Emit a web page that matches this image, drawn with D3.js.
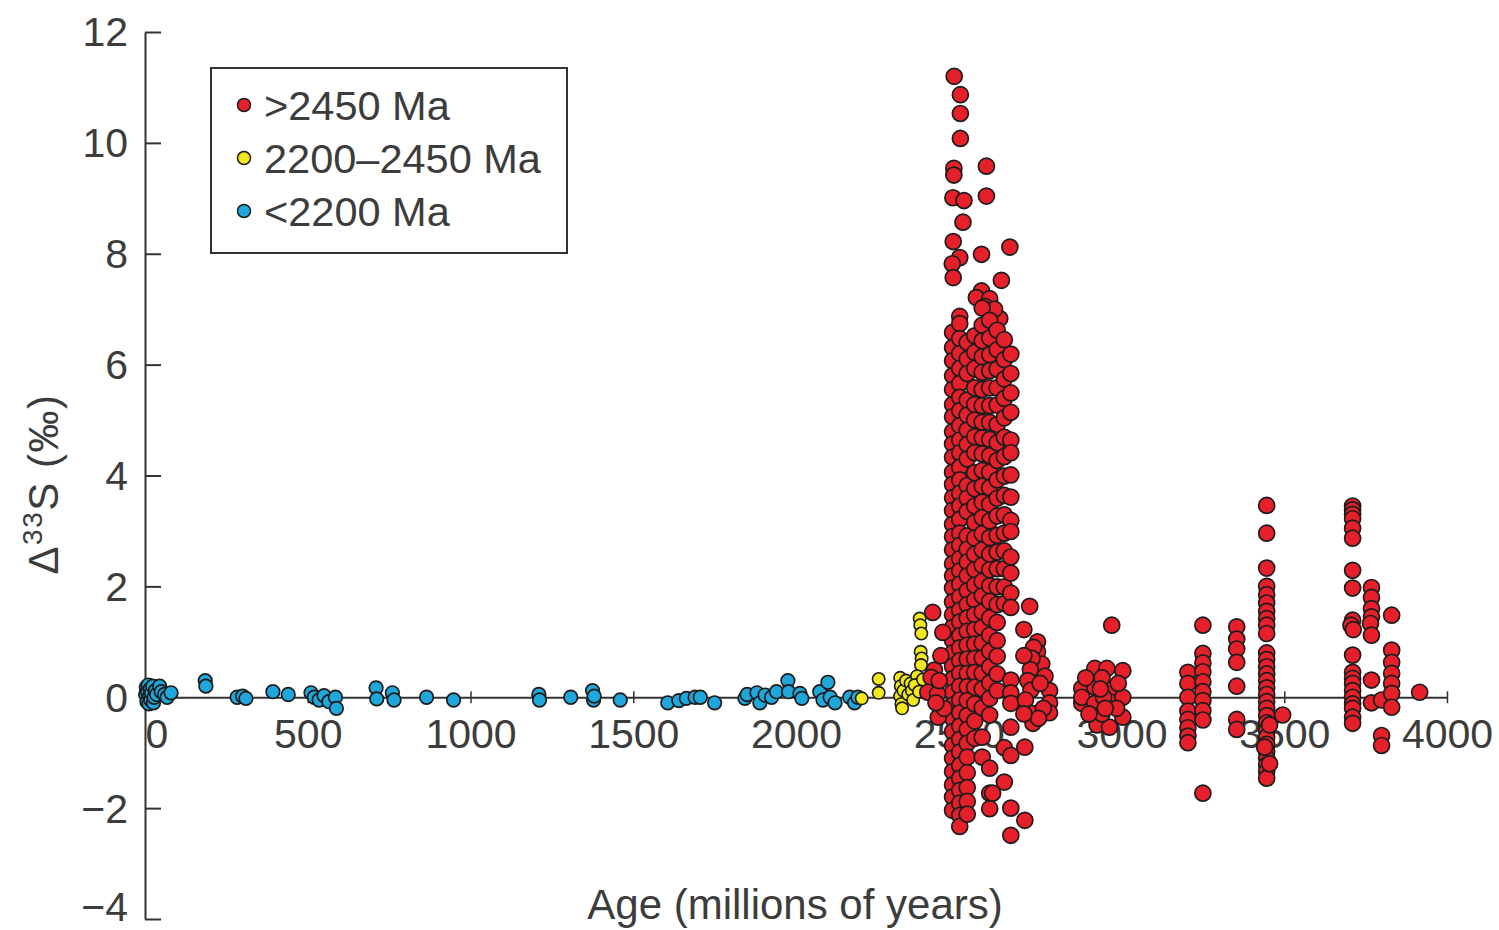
<!DOCTYPE html>
<html><head><meta charset="utf-8">
<script src="https://cdn.jsdelivr.net/npm/d3@7"></script>
<style>
html,body{margin:0;padding:0;background:#fff;}
svg{display:block;font-family:"Liberation Sans",Arial,Helvetica,sans-serif;}
</style></head><body>
<svg id="chart" width="1499" height="930"></svg>
<script>
// ---------- DATA ----------
const xTicks = [500, 1000, 1500, 2000, 2500, 3000, 3500, 4000];
const xZeroLabel = "0";
const yTicks = [-4, -2, 0, 2, 4, 6, 8, 10, 12];
const legendLabels = [">2450 Ma", "2200\u20132450 Ma", "<2200 Ma"];

// <2200 Ma  [age (Ma), Δ33S (‰)]
const bluePoints = [
  [2,0.05],[4,0.18],[6,-0.08],[8,0.1],[10,0.22],[12,-0.12],[14,0.02],[16,0.15],[18,-0.05],[20,0.08],
  [24,0.2],[26,-0.1],[28,0.0],[32,0.12],[36,0.05],[45,0.2],[50,0.1],[60,0.05],[68,0.0],[80,0.08],
  [185,0.3],[187,0.2],[283,0.0],[300,0.02],[310,-0.02],[393,0.1],[440,0.05],
  [510,0.08],[520,0.0],[535,-0.05],[550,0.03],[565,-0.08],[585,0.0],[588,-0.2],
  [710,0.17],[712,-0.03],[760,0.08],[765,-0.05],[865,0.0],[948,-0.05],
  [1210,0.05],[1212,-0.05],[1308,0.0],[1375,0.12],[1378,-0.05],[1380,0.02],[1460,-0.05],
  [1606,-0.1],[1640,-0.06],[1663,-0.02],[1690,0.0],[1706,0.0],[1750,-0.1],
  [1843,-0.02],[1850,0.05],[1880,0.08],[1889,-0.1],[1905,0.04],[1925,0.0],[1940,0.1],
  [1975,0.3],[1977,0.1],[2012,0.07],[2018,-0.02],[2073,0.1],[2083,-0.05],[2098,0.27],
  [2105,0.0],[2120,-0.1],[2165,0.0],[2180,-0.1],[2190,0.0]
];

// 2200–2450 Ma
const yellowPoints = [
  [2202,-0.02],[2254,0.33],[2254,0.08],[2320,0.35],[2322,0.2],[2320,0.02],[2324,-0.12],[2326,-0.2],
  [2330,0.12],[2338,0.3],[2345,0.05],[2352,0.25],[2356,0.12],[2360,-0.05],[2380,1.42],[2382,1.3],
  [2385,1.15],[2383,0.82],[2386,0.7],[2384,0.58],[2372,0.38],[2365,0.22],[2390,0.32],[2378,0.1]
];

// >2450 Ma : high spike
const redSpike = [
  [2486,11.2],[2505,10.87],[2505,10.53],[2505,10.08],[2485,9.54],[2485,9.42],[2585,9.58],[2482,9.01],
  [2516,8.96],[2585,9.04],[2513,8.57],[2483,8.22],[2657,8.12],[2570,7.99],[2503,7.93],[2480,7.82],
  [2483,7.57],[2631,7.52],[2570,7.33],[2554,7.21],[2595,7.19],[2503,6.87],[2595,6.92],[2626,6.83],
  [2580,7.05],[2610,7.0]
];

// >2450 Ma : dense Neoarchean column, by age column
const redMainAges = [2481, 2503, 2526, 2549, 2572, 2595, 2618, 2640, 2660];
const redMainValues = [
  [6.58,6.31,6.07,5.80,5.55,5.28,5.06,4.79,4.57,4.33,4.06,3.84,3.60,3.37,3.12,2.90,2.66,2.41,2.19,1.97,1.72,1.49,1.26,1.03,0.80,0.56,0.33,0.09,-0.14,-0.38,-0.62,-0.87,-1.10,-1.34,-1.58,-1.80,-2.04],
  [6.74,6.47,6.20,5.93,5.66,5.41,5.17,4.90,4.64,4.41,4.15,3.92,3.68,3.45,3.21,2.96,2.74,2.50,2.28,2.04,1.81,1.57,1.36,1.11,0.89,0.66,0.43,0.20,-0.05,-0.28,-0.52,-0.76,-0.99,-1.23,-1.46,-1.68,-1.91,-2.13,-2.33],
  [6.40,6.10,5.84,5.36,5.09,4.82,4.56,4.30,3.82,3.59,3.35,2.91,2.67,2.44,2.19,1.92,1.67,1.43,1.19,0.94,0.69,0.43,0.19,-0.06,-0.33,-0.58,-0.83,-1.08,-1.36,-1.63,-1.88,-2.11],
  [6.52,6.22,5.93,5.58,5.28,5.00,4.70,4.41,4.05,3.76,3.45,3.15,2.87,2.58,2.30,2.02,1.75,1.49,1.22,0.96,0.70,0.45,0.18,-0.12,-0.43,-0.74],
  [7.02,6.71,6.43,6.14,5.86,5.55,5.26,4.96,4.68,4.39,4.09,3.81,3.52,3.24,2.95,2.66,2.38,2.09,1.83,1.54,1.26,0.98,0.71,0.43,0.15,-0.19,-0.72,-1.08],
  [6.80,6.48,6.18,5.89,5.58,5.26,4.96,4.65,4.36,4.06,3.78,3.48,3.18,2.88,2.58,2.30,2.01,1.73,1.43,1.12,0.83,0.55,0.26,-0.02,-0.32,-1.28,-1.73,-2.01],
  [6.62,6.27,5.92,5.58,5.27,4.92,4.59,4.27,3.92,3.59,3.27,2.92,2.62,2.32,1.99,1.67,1.35,1.02,0.74,0.42,0.12],
  [6.45,6.09,5.74,5.39,5.04,4.69,4.34,3.99,3.64,3.29,2.96,2.64,2.32,1.99,1.69,-0.91,-1.53],
  [6.19,5.84,5.49,5.14,4.64,4.41,4.01,3.61,3.19,2.99,2.53,2.24,1.88,1.62,0.31,0.08,-0.11,-0.54,-1.05,-2.00,-2.49]
];

// >2450 Ma : scattered points
const redOther = [
  [2420,1.53],[2451,1.17],[2425,0.49],[2415,0.36],[2405,0.09],[2435,0.06],[2437,-0.36],[2445,0.75],
  [2440,0.3],[2455,-0.2],[2430,-0.1],
  [2703,-2.22],[2604,-1.73],
  // ~2700–2780 Ma
  [2718,1.64],[2700,1.22],[2742,1.0],[2742,0.82],[2755,0.6],[2765,0.38],[2779,0.12],[2779,-0.1],
  [2779,-0.28],[2730,0.9],[2725,0.7],[2720,0.5],[2712,0.3],[2722,0.13],[2705,-0.05],[2725,-0.29],
  [2728,-0.47],[2700,0.75],[2750,0.25],[2760,-0.2],[2745,-0.38],[2700,-0.3],[2703,-0.9],
  // ~2880–3010 Ma
  [2878,0.16],[2878,-0.11],[2878,0.0],[2918,0.52],[2918,0.18],[2918,-0.11],[2925,-0.5],[2955,0.52],
  [2970,0.16],[2970,-0.09],[2963,-0.54],[3004,0.48],[3004,0.0],[3004,-0.36],[2970,1.3],[2940,0.35],
  [2945,0.0],[2940,-0.3],[2890,0.35],[2990,0.25],[2985,-0.2],[2900,-0.3],[2950,-0.2],[2935,0.15],
  // ~3200–3260 Ma
  [3204,0.45],[3204,0.25],[3204,0.0],[3204,-0.25],[3204,-0.4],[3204,-0.55],[3204,-0.7],[3204,-0.82],
  [3250,1.3],[3250,0.79],[3250,0.62],[3250,0.46],[3250,0.28],[3250,0.1],[3250,-0.06],[3250,-0.24],
  [3250,-0.41],[3250,-1.73],
  // ~3350 Ma
  [3354,1.27],[3354,1.05],[3354,0.87],[3354,0.63],[3354,0.2],[3354,-0.4],[3354,-0.58],
  // ~3450 Ma
  [3446,3.46],[3446,2.96],[3446,2.33],[3446,2.0],[3446,1.85],[3446,1.7],[3446,1.55],[3446,1.42],
  [3446,1.3],[3446,1.15],[3446,0.8],[3446,0.68],[3446,0.55],[3446,0.42],[3446,0.3],[3446,0.17],
  [3446,0.05],[3446,-0.08],[3446,-0.2],[3446,-0.33],[3446,-0.46],[3446,-0.6],[3446,-0.72],[3446,-0.85],
  [3446,-0.98],[3446,-1.1],[3446,-1.22],[3446,-1.34],[3446,-1.46],[3440,-0.9],[3455,-1.2],[3455,-0.5],
  [3495,-0.32],
  // ~3700–3920 Ma
  [3710,3.45],[3710,3.38],[3710,3.3],[3710,3.22],[3710,3.05],[3710,2.87],[3710,2.29],[3710,1.97],
  [3710,1.39],[3705,1.3],[3712,1.22],[3710,0.76],[3710,0.45],[3710,0.34],[3710,0.25],[3710,0.12],
  [3710,0.0],[3710,-0.12],[3710,-0.2],[3710,-0.36],[3710,-0.47],
  [3768,1.98],[3768,1.8],[3768,1.6],[3768,1.45],[3765,1.33],[3768,1.12],[3768,0.31],[3768,-0.1],
  [3799,-0.05],[3799,-0.69],[3799,-0.87],
  [3830,1.48],[3830,0.85],[3830,0.63],[3830,0.43],[3830,0.25],[3830,0.07],[3830,-0.18],
  [3916,0.09]
];

// ---------- CHART ----------
const svg = d3.select("#chart");
const x = d3.scaleLinear().domain([0, 4000]).range([145, 1447]);
const y = d3.scaleLinear().domain([-4, 12]).range([919, 32]);
const textColor = "#3c3c3c", axisColor = "#333";
const fontSize = 41;

// y axis
const yAxis = svg.append("g").attr("transform", `translate(${x(0)},0)`)
  .call(d3.axisLeft(y).tickValues(yTicks).tickSizeInner(-16).tickSizeOuter(0).tickPadding(17));
yAxis.select(".domain").attr("stroke", axisColor).attr("stroke-width", 2);
yAxis.selectAll(".tick line").attr("stroke", axisColor).attr("stroke-width", 2);
yAxis.selectAll(".tick text").attr("font-size", fontSize).attr("fill", textColor)
  .attr("font-family", "Liberation Sans, Arial, sans-serif")
  .attr("dy", d => d === -4 ? "0.04em" : "0.34em");

// x axis along zero line
const xAxis = svg.append("g").attr("transform", `translate(0,${y(0)})`)
  .call(d3.axisBottom(x).tickValues(xTicks).tickFormat(d3.format("d"))
    .tickSizeInner(6).tickSizeOuter(0).tickPadding(16));
xAxis.select(".domain").attr("stroke", axisColor).attr("stroke-width", 2);
xAxis.selectAll(".tick line").attr("stroke", axisColor).attr("stroke-width", 1.5).attr("y1", -6);
xAxis.selectAll(".tick text").attr("font-size", fontSize).attr("fill", textColor)
  .attr("font-family", "Liberation Sans, Arial, sans-serif");
// zero label (no tick mark; offset right of the y axis)
xAxis.append("text").attr("x", x(0) + 12).attr("y", 22).attr("dy", "0.71em")
  .attr("text-anchor", "middle").attr("font-size", fontSize).attr("fill", textColor)
  .attr("font-family", "Liberation Sans, Arial, sans-serif").text(xZeroLabel);

// axis titles
svg.append("text").attr("x", 795).attr("y", 919).attr("text-anchor", "middle")
  .attr("font-size", 42).attr("fill", textColor).text("Age (millions of years)");
const yt = svg.append("text").attr("transform", "translate(58,484) rotate(-90)")
  .attr("text-anchor", "middle").attr("font-size", 42).attr("fill", textColor)
  .attr("letter-spacing", 1.5);
yt.append("tspan").text("\u0394");
yt.append("tspan").attr("font-size", 28).attr("dy", -16).text("33");
yt.append("tspan").attr("dy", 16).text("S (\u2030)");

// points
function drawSeries(data, fill, r, sw) {
  svg.append("g").selectAll("circle").data(data).join("circle")
    .attr("cx", d => x(d[0])).attr("cy", d => y(d[1])).attr("r", r)
    .attr("fill", fill).attr("stroke", "#1c1c1c").attr("stroke-width", sw);
}
const redMain = [];
redMainAges.forEach((a, i) => redMainValues[i].forEach(v => redMain.push([a, v])));

drawSeries(bluePoints, "#1fa6da", 6.8, 1.7);
drawSeries(yellowPoints, "#f2e81c", 6.2, 1.6);
drawSeries(redSpike, "#e5202a", 8, 1.7);
drawSeries(redMain, "#e5202a", 8, 1.7);
drawSeries(redOther, "#e5202a", 8, 1.7);

// legend
const lg = svg.append("g");
lg.append("rect").attr("x", 211).attr("y", 68).attr("width", 356).attr("height", 185)
  .attr("fill", "#fff").attr("stroke", axisColor).attr("stroke-width", 2);
const legendColors = ["#e5202a", "#f2e81c", "#1fa6da"];
legendLabels.forEach((t, i) => {
  const cy = 105 + i * 53;
  lg.append("circle").attr("cx", 244).attr("cy", cy).attr("r", 6.5)
    .attr("fill", legendColors[i]).attr("stroke", "#1c1c1c").attr("stroke-width", 1.5);
  lg.append("text").attr("x", 264).attr("y", cy + 15).attr("font-size", 41.5)
    .attr("fill", textColor).text(t);
});
</script></body></html>
